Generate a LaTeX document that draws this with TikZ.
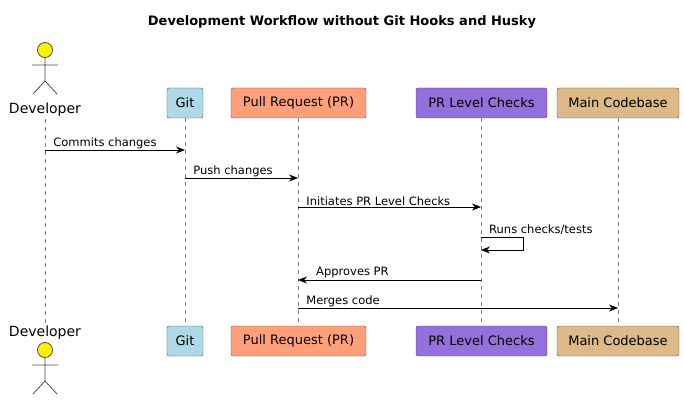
\documentclass[tikz,border=0pt]{standalone}
\usepackage{fontspec}
\setmainfont{DejaVu Sans}
\usetikzlibrary{arrows.meta}
\definecolor{cgit}{HTML}{ADD8E6}
\definecolor{cpr}{HTML}{FFA07A}
\definecolor{cchk}{HTML}{9370DB}
\definecolor{cmain}{HTML}{DEB887}
\begin{document}
\begin{tikzpicture}[x=1pt,y=-1pt,
  part/.style={draw=black!70,rounded corners=2pt,minimum height=30pt,inner xsep=5pt,font=\fontsize{13}{15}\selectfont,anchor=center},
  msg/.style={-{Stealth[length=9pt,width=7pt]},line width=0.8pt},
  lab/.style={font=\fontsize{11.5}{13}\selectfont,anchor=south west,inner sep=1pt},
  life/.style={dashed,draw=black!50,line width=0.5pt,dash pattern=on 4pt off 4pt}]
\useasboundingbox (0,0) rectangle (684,406);
\node[font=\bfseries\fontsize{13}{15}\selectfont] (title) at (342,22) {Development Workflow without Git Hooks and Husky};
% top participants
\node[part,fill=cgit,minimum width=36pt] (g1) at (185,103) {Git};
\node[part,fill=cpr,minimum width=135pt] (p1) at (298.5,103) {Pull Request (PR)};
\node[part,fill=cchk,minimum width=131pt] (c1) at (481.5,103) {PR Level Checks};
\node[part,fill=cmain,minimum width=122pt] (m1) at (618,103) {Main Codebase};
\node[part,fill=cgit,minimum width=36pt] (g2) at (185,341) {Git};
\node[part,fill=cpr,minimum width=135pt] (p2) at (298.5,341) {Pull Request (PR)};
\node[part,fill=cchk,minimum width=131pt] (c2) at (481.5,341) {PR Level Checks};
\node[part,fill=cmain,minimum width=122pt] (m2) at (618,341) {Main Codebase};
% actors
\newcommand{\myactor}[1]{%
  \draw[fill=yellow,draw=black!70,line width=0.8pt] (45,#1) circle (7.5);
  \draw[draw=black!70,line width=0.8pt] (45,#1+7.5) -- (45,#1+31) (32,#1+15) -- (58,#1+15)
    (33,#1+44) -- (45,#1+31) -- (57,#1+44);}
\myactor{50}
\myactor{350}
\node[font=\fontsize{14}{16}\selectfont] (d1) at (45,110) {Developer};
\node[font=\fontsize{14}{16}\selectfont] (d2) at (45,333) {Developer};
\coordinate (dl1) at (45,119); \coordinate (dl2) at (45,324);
% lifelines
\draw[life] (dl1) -- (dl2);
\draw[life] (g1.south) -- (g2.north);
\draw[life] (p1.south) -- (p2.north);
\draw[life] (c1.south) -- (c2.north);
\draw[life] (m1.south) -- (m2.north);
% messages
\coordinate (a1) at (45,150); \coordinate (b1) at (185,150);
\draw[msg] (a1) -- node[lab,at start,xshift=7pt] {Commits changes} (b1);
\coordinate (a2) at (185,178); \coordinate (b2) at (298,178);
\draw[msg] (a2) -- node[lab,at start,xshift=7pt] {Push changes} (b2);
\coordinate (a3) at (298,207); \coordinate (b3) at (481,207);
\draw[msg] (a3) -- node[lab,at start,xshift=7pt] {Initiates PR Level Checks} (b3);
\coordinate (a4) at (481,237); \coordinate (b4) at (481,250);
\draw[msg] (a4) -- (523,237) -- (523,250) -- (b4);
\node[lab] (l4) at (488,236) {Runs checks/tests};
\coordinate (a5) at (481,280); \coordinate (b5) at (298,280);
\draw[msg] (a5) -- (b5);
\node[lab] (l5) at (315,279) {Approves PR};
\coordinate (a6) at (298,308); \coordinate (b6) at (618,308);
\draw[msg] (a6) -- node[lab,at start,xshift=7pt] {Merges code} (b6);
\end{tikzpicture}
\end{document}
